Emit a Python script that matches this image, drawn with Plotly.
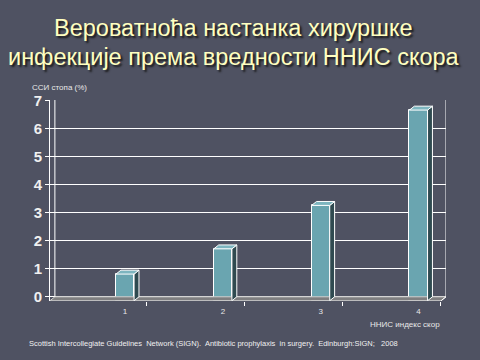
import plotly.graph_objects as go

# Data
categories = [1, 2, 3, 4]
tick_labels = ["1", "2", "3", "4"]
ssi_rate = [0.95, 1.85, 3.4, 6.8]
y_ticks = [0, 1, 2, 3, 4, 5, 6, 7]

title_lines = ["Вероватноћа настанка хируршке", "инфекције према вредности ННИС скора"]
y_title = "ССИ стопа (%)"
x_title = "ННИС индекс скор"
source = ("Scottish Intercollegiate Guidelines&nbsp; Network (SIGN).&nbsp; Antibiotic prophylaxis&nbsp; "
          "in surgery.&nbsp; Edinburgh:SIGN;&nbsp;&nbsp; 2008")

# Style / geometry (3D look)
BG = "#4f5262"
FRONT = "#6aa5b0"
SIDE = "#2f4a50"
TOP = "#7db5bf"
FLOOR = "#7f7f80"
XMIN, XMAX = 0.233, 4.281
YMIN, YMAX = -0.15, 7.02
DX, DY = 0.05, 0.14      # depth offset in data units
BW = 0.185               # bar front width
TFONT = dict(family="Liberation Sans, Arial", size=23.5, color="#ffffc0",
             shadow="2px 2px 2px #1a1a1a")

fig = go.Figure()

# floor
fig.add_trace(go.Scatter(
    x=[XMIN, XMAX - DX, XMAX, XMIN + DX, XMIN],
    y=[-DY, -DY, 0, 0, -DY],
    fill="toself", fillcolor=FLOOR, mode="lines",
    line=dict(color="#d0d0d0", width=1), hoverinfo="skip", showlegend=False))

# back-left wall edge and back-right edge
fig.add_trace(go.Scatter(
    x=[XMIN + DX, XMIN + DX], y=[0, YMAX], mode="lines",
    line=dict(color="white", width=1), hoverinfo="skip", showlegend=False))
fig.add_trace(go.Scatter(
    x=[XMAX - DX, XMAX, XMAX], y=[-DY, 0, YMAX], mode="lines",
    line=dict(color="white", width=1), hoverinfo="skip", showlegend=False))

# side and top faces of bars, derived from values
for c, v in zip(categories, ssi_rate):
    x0, x1 = c - BW / 2, c + BW / 2
    fig.add_trace(go.Scatter(
        x=[x1, x1, x1 + DX, x1 + DX, x1],
        y=[-DY, v - DY, v, 0, -DY],
        fill="toself", fillcolor=SIDE, mode="lines",
        line=dict(color="white", width=1), hoverinfo="skip", showlegend=False))
    fig.add_trace(go.Scatter(
        x=[x0, x1, x1 + DX, x0 + DX, x0],
        y=[v - DY, v - DY, v, v, v - DY],
        fill="toself", fillcolor=TOP, mode="lines",
        line=dict(color="white", width=1), hoverinfo="skip", showlegend=False))

# front faces
fig.add_trace(go.Bar(
    x=categories, y=ssi_rate, base=[-DY] * len(ssi_rate), width=BW,
    marker=dict(color=FRONT, line=dict(color="white", width=1)),
    showlegend=False))

fig.update_layout(
    width=480, height=360,
    paper_bgcolor=BG, plot_bgcolor=BG,
    margin=dict(l=50, r=34, t=100, b=59),
    xaxis=dict(
        range=[XMIN, XMAX], tickvals=categories, ticktext=tick_labels,
        showgrid=False, zeroline=False, showline=False, ticks="",
        ticklabelstandoff=4,
        tickfont=dict(family="Liberation Sans, Arial", size=8, color="#e8e8e8"),
        minor=dict(tickvals=[c + 0.22 for c in categories], ticks="outside",
                   ticklen=4, tickcolor="white", showgrid=False)),
    yaxis=dict(
        range=[YMIN, YMAX], tickvals=y_ticks,
        showgrid=True, gridcolor="white", gridwidth=1, zeroline=False,
        showline=True, linecolor="white", linewidth=1,
        ticks="outside", ticklen=4, tickcolor="white",
        tickfont=dict(family="Liberation Sans, Arial", size=15, color="#f0f0f0",
                      weight="bold")),
    bargap=0,
    annotations=[
        dict(text=title_lines[0], xref="paper", yref="paper", x=0.5, y=1,
             xanchor="center", yanchor="middle", yshift=72, xshift=-15,
             showarrow=False, font=TFONT),
        dict(text=title_lines[1], xref="paper", yref="paper", x=0.5, y=1,
             xanchor="center", yanchor="middle", yshift=43, xshift=-14,
             showarrow=False, font=TFONT),
        dict(text=y_title, xref="paper", yref="paper", x=-0.05, y=1.0,
             xanchor="left", yanchor="bottom", yshift=6, showarrow=False,
             font=dict(family="Liberation Sans, Arial", size=8, color="#e8e8e8")),
        dict(text=x_title, xref="paper", yref="paper", x=0.99, y=0,
             xanchor="right", yanchor="top", yshift=-17, showarrow=False,
             font=dict(family="Liberation Sans, Arial", size=8, color="#e8e8e8")),
        dict(text=source, xref="paper", yref="paper", x=-0.058, y=0,
             xanchor="left", yanchor="top", yshift=-36, showarrow=False,
             font=dict(family="Liberation Sans, Arial", size=7.5, color="#f0f0f0")),
    ],
)

fig.write_html("out.html", config={"displayModeBar": False},
               post_script="document.body.style.margin='0';")
